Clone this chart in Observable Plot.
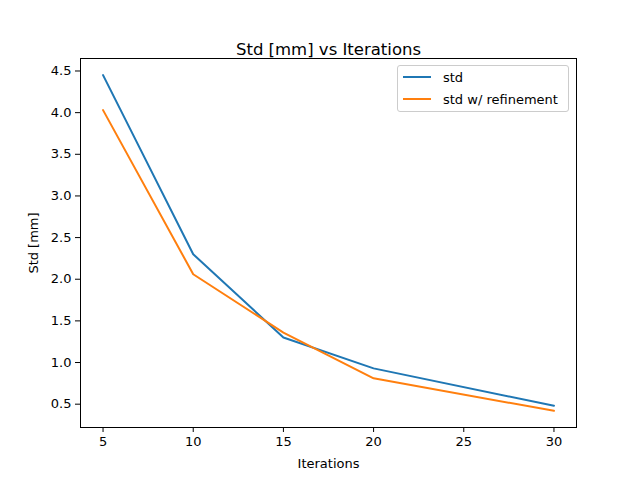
<!DOCTYPE html>
<html><head>
<script src="https://cdn.jsdelivr.net/npm/d3@7"></script>
<script src="https://cdn.jsdelivr.net/npm/@observablehq/plot@0.6"></script>
<style>
body{margin:0;background:#fff;font-family:"DejaVu Sans",sans-serif;}
#wrap{position:relative;width:640px;height:480px;}
#legend{position:absolute;left:397px;top:65px;width:170px;height:45px;border:1px solid #ccc;border-radius:3px;background:#fff;font-size:13px;}
#legend div{display:flex;align-items:center;height:22px;padding-left:5px;}
#legend span{display:inline-block;width:28px;height:2px;margin-right:12px;}
</style>
</head><body>
<div id="wrap"><div id="chart"></div>
<div id="legend">
<div><span style="background:#1f77b4"></span>std</div>
<div><span style="background:#ff7f0e"></span>std w/ refinement</div>
</div></div>
<script>
const iterations = [5, 10, 15, 20, 30];
const stdVals = [4.45, 2.30, 1.30, 0.93, 0.48];
const refinedVals = [4.03, 2.06, 1.36, 0.81, 0.42];
const series = ["std", "std w/ refinement"];
const colors = ["#1f77b4", "#ff7f0e"];

const data = [];
iterations.forEach((it, i) => {
  data.push({it, v: stdVals[i], s: series[0]});
  data.push({it, v: refinedVals[i], s: series[1]});
});

const chart = Plot.plot({
  width: 640, height: 480,
  marginLeft: 80, marginRight: 64, marginTop: 58, marginBottom: 53,
  style: {fontFamily: "DejaVu Sans", fontSize: "13px", color: "#000", background: "#fff"},
  x: {domain: [3.75, 31.25], ticks: [5, 10, 15, 20, 25, 30], tickSize: 5, label: "Iterations", labelAnchor: "center", labelArrow: "none", labelOffset: 40},
  y: {domain: [0.22, 4.65], ticks: d3.range(0.5, 4.51, 0.5), tickFormat: d3.format(".1f"), tickSize: 5, label: "Std [mm]", labelAnchor: "center", labelArrow: "none", labelOffset: 52},
  color: {domain: series, range: colors},
  marks: [
    Plot.frame({stroke: "#000"}),
    Plot.line(data, {x: "it", y: "v", z: "s", stroke: "s", strokeWidth: 2}),
    Plot.text(["Std [mm] vs Iterations"], {frameAnchor: "top", dy: -15, fontSize: 16.5})
  ]
});
d3.select('#chart').append(() => chart);
</script>
</body></html>
